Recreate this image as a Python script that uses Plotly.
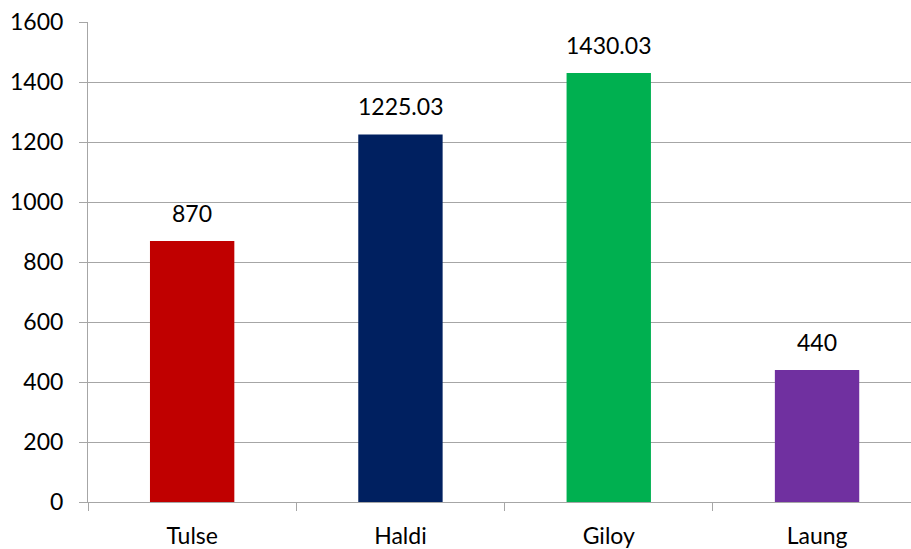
import plotly.graph_objects as go

categories = ["Tulse", "Haldi", "Giloy", "Laung"]
values = [870, 1225.03, 1430.03, 440]
bar_colors = ["#C00000", "#002060", "#00B050", "#7030A0"]
y_ticks = [0, 200, 400, 600, 800, 1000, 1200, 1400, 1600]

positions = list(range(len(categories)))
boundaries = [p - 0.5 for p in positions]
x_range = [-0.5, 3.451]
font_family = "Lato, 'Open Sans', sans-serif"
grid_color = "#A6A6A6"
font_size = 23

fig = go.Figure()
fig.add_trace(go.Bar(
    x=positions, y=values, marker=dict(color=bar_colors, line=dict(width=0)),
    width=0.405, showlegend=False, hoverinfo="x+y",
))
# invisible companion trace that carries the boundary tick axis
fig.add_trace(go.Scatter(x=boundaries, y=[0] * len(boundaries), xaxis="x2",
                         mode="markers", marker=dict(opacity=0), showlegend=False,
                         hoverinfo="skip"))

for p, v in zip(positions, values):
    fig.add_annotation(x=p, y=v, text=f"{v:g}", showarrow=False,
                       yanchor="bottom", yshift=12,
                       font=dict(family=font_family, size=font_size, color="#000000"))

fig.update_layout(
    width=911, height=549,
    margin=dict(l=88, r=0, t=22, b=47, autoexpand=False),
    paper_bgcolor="white", plot_bgcolor="white",
    font=dict(family=font_family, size=font_size, color="#000000"),
    bargap=0.6,
    xaxis=dict(
        range=x_range, tickvals=positions, ticktext=categories,
        ticks="", showgrid=False, zeroline=False, showline=True,
        linecolor=grid_color, linewidth=1, automargin=False,
        ticklabelstandoff=13, fixedrange=True,
    ),
    xaxis2=dict(
        range=x_range, overlaying="x", side="bottom", tickvals=boundaries,
        showticklabels=False, ticks="outside", ticklen=8, tickcolor=grid_color,
        tickwidth=1, showgrid=False, zeroline=False, showline=False,
        automargin=False,
    ),
    yaxis=dict(
        range=[0, 1600], tickvals=y_ticks, showgrid=True, gridcolor=grid_color,
        gridwidth=1, zeroline=False, showline=True, linecolor=grid_color,
        linewidth=1, ticks="outside", ticklen=8, tickcolor=grid_color,
        ticklabelstandoff=11, automargin=False,
    ),
)

fig.write_html("out.html")
